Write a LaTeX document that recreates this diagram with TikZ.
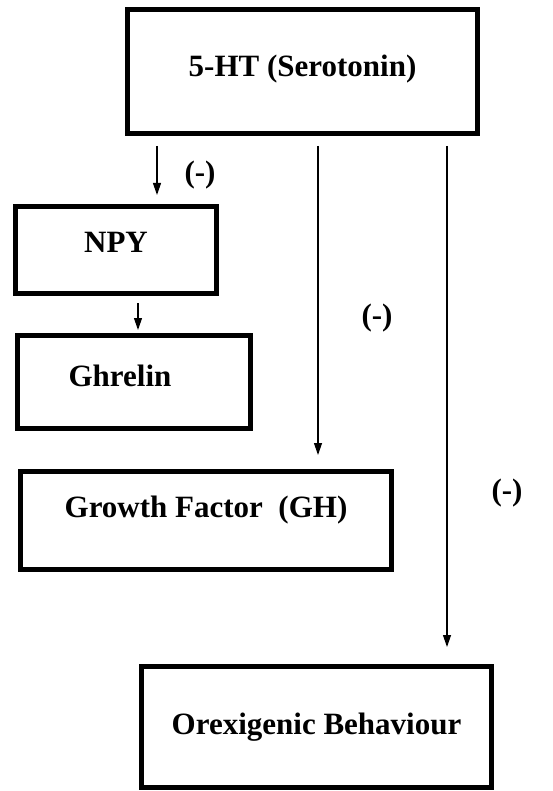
\documentclass[tikz,border=0pt]{standalone}
\usepackage{fontspec}
\setmainfont{Liberation Serif}
\usetikzlibrary{calc, positioning, arrows.meta}
\def\boxlinewidth{5pt}
\def\outersep{2.5pt}
\def\arrowlinewidth{1.2pt}
\def\boxdrawcolor{black}
\def\arrowdrawcolor{black}
\def\textheight{20pt}
\def\arrowlength{12pt}
\def\arrowwidth{8pt}
\tikzset{
	% text
	bold_text/.style={
		font=\fontsize{31pt}{37pt}\selectfont\bfseries,
		align=center,
	},
	% boxes
	module/.style={
		draw=\boxdrawcolor,
		line width=\boxlinewidth,
		bold_text,
		shape=rectangle,
		inner sep=0pt,
		outer sep=\outersep,
		text height=\textheight,
	},
	% inhibition signs
	sign/.style={
		bold_text,
		inner sep=0pt,
	},
	% connections
	connection/.style={
		draw=\arrowdrawcolor,
		line width=\arrowlinewidth,
		-{Stealth[length=\arrowlength,width=\arrowwidth,inset=0pt]},
	}
}
\begin{document}
\begin{tikzpicture}[x=1pt, y=-1pt]
	\useasboundingbox (0,0) rectangle (552,791);
	%
	\node[
		module,
		minimum width=350pt,
		minimum height=124pt,
		text depth=9pt
	] (serotonin) at (302.5,71.5) {5-HT (Serotonin)};
	%
	\node[
		module,
		minimum width=201pt,
		minimum height=87pt,
		text depth=14pt
	] (npy) at (116,250) {NPY};
	%
	\node[
		module,
		minimum width=233pt,
		minimum height=93pt,
		text depth=12pt
	] (ghrelin) at (134,382) {Ghrelin\hspace*{28pt}};
	%
	\node[
		module,
		minimum width=371pt,
		minimum height=98pt,
		text depth=27pt
	] (gh) at (206,520.5) {Growth Factor\ \ (GH)};
	%
	\node[
		module,
		minimum width=350pt,
		minimum height=121pt,
		text depth=6pt
	] (orexigenic) at (316.5,727) {Orexigenic Behaviour};
	%
	\draw[connection] ($(serotonin.south west)+(32,10)$) coordinate (to_npy)
		-- ($(to_npy |- npy.north)+(0,-9)$);
	\draw[connection] ($(npy.south)+(22,7)$) coordinate (to_ghrelin)
		-- ($(to_ghrelin |- ghrelin.north)+(0,-3)$);
	\draw[connection] ($(serotonin.south)+(15.5,10)$) coordinate (to_gh)
		-- ($(to_gh |- gh.north)+(0,-14)$);
	\draw[connection] ($(serotonin.south east)+(-33,10)$) coordinate (to_orexigenic)
		-- ($(to_orexigenic |- orexigenic.north)+(0,-17)$);
	%
	\node[sign] (sign_npy) at (200,175) {(-)};
	\node[sign] (sign_gh) at (377,318) {(-)};
	\node[sign] (sign_orexigenic) at (507,493) {(-)};
	%
\end{tikzpicture}
\end{document}
